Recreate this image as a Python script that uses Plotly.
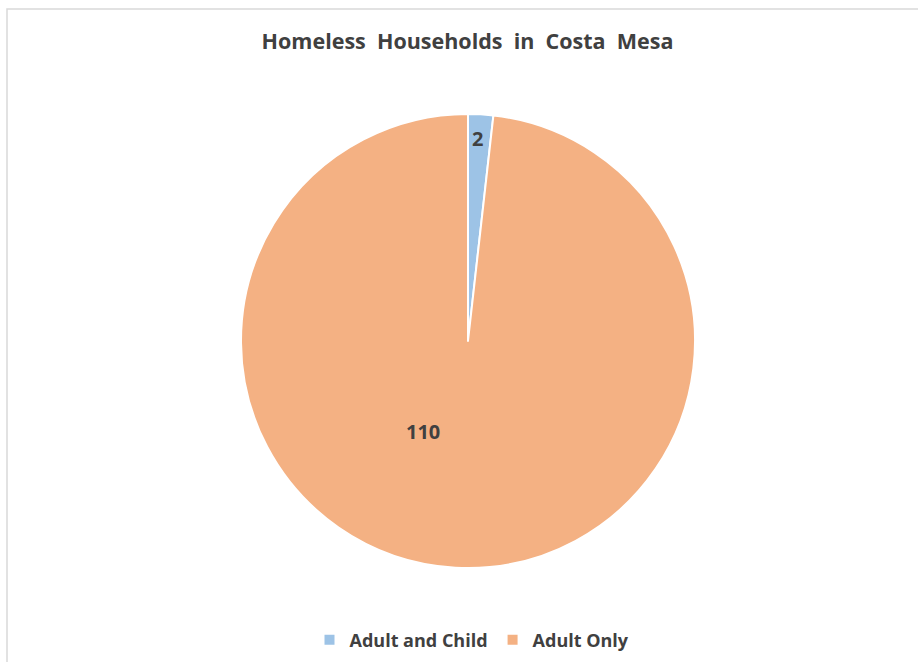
import math
import plotly.graph_objects as go

# Household counts by type
categories = ["Adult and Child", "Adult Only"]
households = [2, 110]
colors = ["#9DC3E6", "#F4B183"]

W, H = 918, 662
cx, cy, R = 468, 341, 227  # pie centre and radius in pixels

# Where each value label sits: fraction of radius, clockwise angle from 12 o'clock (deg)
label_radius = [0.895, 0.447]
label_angle = [2.8, 206.3]

fig = go.Figure(
    go.Pie(
        labels=categories,
        values=households,
        sort=False,
        direction="clockwise",
        rotation=0,
        marker=dict(colors=colors, line=dict(color="white", width=2)),
        textinfo="none",
        hoverinfo="label+value",
        domain=dict(x=[(cx - R) / W, (cx + R) / W], y=[1 - (cy + R) / H, 1 - (cy - R) / H]),
    )
)

annotations = []
for v, rf, ang in zip(households, label_radius, label_angle):
    a = math.radians(ang)
    px = cx + rf * R * math.sin(a)
    py = cy - rf * R * math.cos(a)
    annotations.append(
        dict(
            x=px / W, y=1 - py / H, xref="paper", yref="paper",
            xanchor="center", yanchor="middle",
            text=f"<b>{v}</b>", showarrow=False,
            font=dict(family="Open Sans", size=20, color="#404040"),
        )
    )

fig.update_layout(
    width=W,
    height=H,
    margin=dict(l=0, r=0, t=0, b=0),
    paper_bgcolor="white",
    title=dict(
        text="<b>Homeless&nbsp; Households&nbsp; in&nbsp; Costa&nbsp; Mesa</b>",
        x=467.5 / W, xanchor="center", y=1 - 41 / H, yanchor="middle",
        font=dict(family="Open Sans", size=21.5, color="#404040"),
    ),
    legend=dict(
        orientation="h", x=472 / W, xanchor="center", y=1 - 640 / H, yanchor="middle",
        font=dict(family="Open Sans", size=18, color="#404040", weight="bold"),
        itemwidth=30,
    ),
    annotations=annotations,
    shapes=[
        dict(type="rect", xref="paper", yref="paper",
             x0=7 / W, x1=1.05, y0=-0.05, y1=1 - 9 / H,
             line=dict(color="#D9D9D9", width=1.5), layer="below")
    ],
)

fig.write_html("out.html")
